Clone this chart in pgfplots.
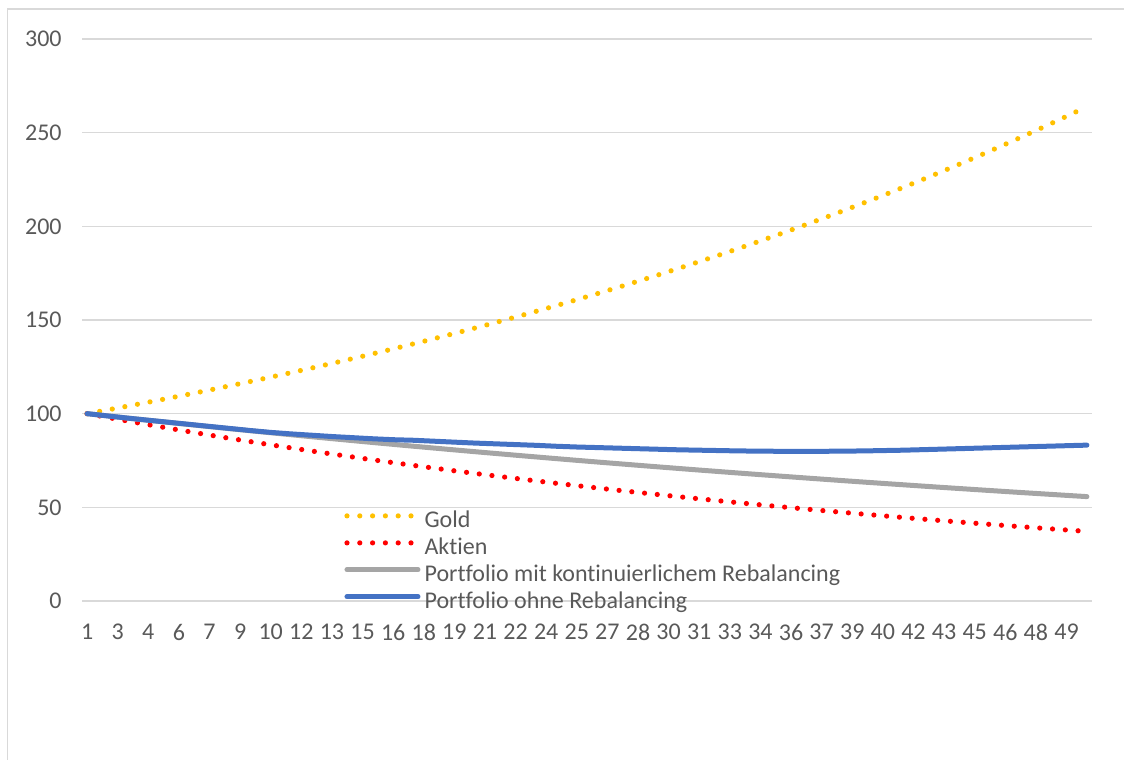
\documentclass[border=0pt]{standalone}
\usepackage{fontspec}
\setmainfont{Carlito}[Ligatures={NoCommon,NoRare}]
\usepackage{pgfplots}
\usepackage{pgfplotstable}
\pgfplotsset{compat=1.18}
\definecolor{cgold}{HTML}{FFC000}
\definecolor{cred}{HTML}{FF0000}
\definecolor{cgray}{HTML}{A5A5A5}
\definecolor{cblue}{HTML}{4472C4}
\definecolor{cgrid}{HTML}{D9D9D9}
\definecolor{ctext}{HTML}{595959}
\definecolor{cborder}{HTML}{D9D9D9}

\pgfplotstableread{
x gold aktien reb ohne
1 100.00 100.00 100.00 100.0
2 102.00 98.00 98.81 98.8
3 104.04 96.04 97.64 97.6
4 106.12 94.12 96.48 96.5
5 108.24 92.24 95.34 95.4
6 110.41 90.39 94.21 94.3
7 112.62 88.58 93.09 93.2
8 114.87 86.81 91.99 92.1
9 117.17 85.08 90.90 91.0
10 119.51 83.37 89.82 90.0
11 121.90 81.71 88.75 89.2
12 124.34 80.07 87.70 88.5
13 126.82 78.47 86.66 87.8
14 129.36 76.90 85.63 87.2
15 131.95 75.36 84.61 86.6
16 134.59 73.86 83.61 86.1
17 137.28 72.38 82.62 85.8
18 140.02 70.93 81.64 85.3
19 142.82 69.51 80.67 84.8
20 145.68 68.12 79.71 84.3
21 148.59 66.76 78.77 83.9
22 151.57 65.43 77.83 83.5
23 154.60 64.12 76.91 83.1
24 157.69 62.83 75.99 82.6
25 160.84 61.58 75.09 82.2
26 164.06 60.35 74.20 81.9
27 167.34 59.14 73.32 81.6
28 170.69 57.96 72.45 81.3
29 174.10 56.80 71.59 81.0
30 177.59 55.66 70.74 80.7
31 181.14 54.55 69.90 80.5
32 184.76 53.46 69.07 80.3
33 188.45 52.39 68.25 80.1
34 192.22 51.34 67.44 80.0
35 196.07 50.31 66.64 79.9
36 199.99 49.31 65.85 79.9
37 203.99 48.32 65.07 79.9
38 208.07 47.35 64.29 80.0
39 212.23 46.41 63.53 80.1
40 216.47 45.48 62.78 80.3
41 220.80 44.57 62.04 80.5
42 225.22 43.68 61.30 80.8
43 229.72 42.80 60.57 81.1
44 234.32 41.95 59.86 81.4
45 239.01 41.11 59.15 81.7
46 243.79 40.29 58.45 82.0
47 248.66 39.48 57.75 82.3
48 253.63 38.69 57.07 82.6
49 258.71 37.92 56.39 82.9
50 263.88 37.16 55.72 83.2
}\datatable

\begin{document}
\begin{tikzpicture}
\path[use as bounding box] (0,0) rectangle (562pt,380pt);
\draw[color=cborder, line width=0.7pt] (3.75pt,-20pt) -- (3.75pt,375.5pt) -- (600pt,375.5pt);
\begin{axis}[
  at={(41pt,79.5pt)}, anchor=south west,
  scale only axis, width=505pt, height=281pt,
  xmin=0.75, xmax=50.25, ymin=0, ymax=300,
  clip=false,
  axis line style={draw=none},
  major tick length=0pt,
  ymajorgrids, grid style={draw=cgrid, line width=0.75pt},
  ytick={0,50,100,150,200,250,300},
  xtick={1,2.5,4,5.5,7,8.5,10,11.5,13,14.5,16,17.5,19,20.5,22,23.5,25,26.5,28,29.5,31,32.5,34,35.5,37,38.5,40,41.5,43,44.5,46,47.5,49},
  xticklabels={1,3,4,6,7,9,10,12,13,15,16,18,19,21,22,24,25,27,28,30,31,33,34,36,37,39,40,42,43,45,46,48,49},
  /pgf/number format/assume math mode=true,
  tick label style={font=\fontsize{12pt}{14pt}\selectfont, text=ctext},
  xticklabel style={anchor=north, inner sep=0pt, yshift=-11.5pt},
  yticklabel style={anchor=east, inner sep=0pt, xshift=-10pt},
  legend style={at={(0.2594,0.1655)}, anchor=north west, draw=none, fill=none,
    font=\fontsize{12pt}{14pt}\selectfont, text=ctext, inner sep=0pt,
    row sep=0pt, column sep=2pt,
    nodes={inner sep=0pt, text height=9.5pt, text depth=4pt}},
  legend cell align=left,
  legend image code/.code={\draw[#1] (0pt,3pt) -- (35.5pt,3pt);},
]
\addplot[cgold, line width=2.6pt, line cap=round, dash pattern=on 0pt off 6.4pt] table[x=x,y=gold] {\datatable};
\addlegendentry{Gold}
\addplot[cred, line width=2.6pt, line cap=round, dash pattern=on 0pt off 6.4pt] table[x=x,y=aktien] {\datatable};
\addlegendentry{Aktien}
\addplot[cgray, line width=2.5pt, line cap=round, line join=round] table[x=x,y=reb] {\datatable};
\addlegendentry{Portfolio mit kontinuierlichem Rebalancing}
\addplot[cblue, line width=2.5pt, line cap=round, line join=round] table[x=x,y=ohne] {\datatable};
\addlegendentry{Portfolio ohne Rebalancing}
\end{axis}
\end{tikzpicture}
\end{document}
